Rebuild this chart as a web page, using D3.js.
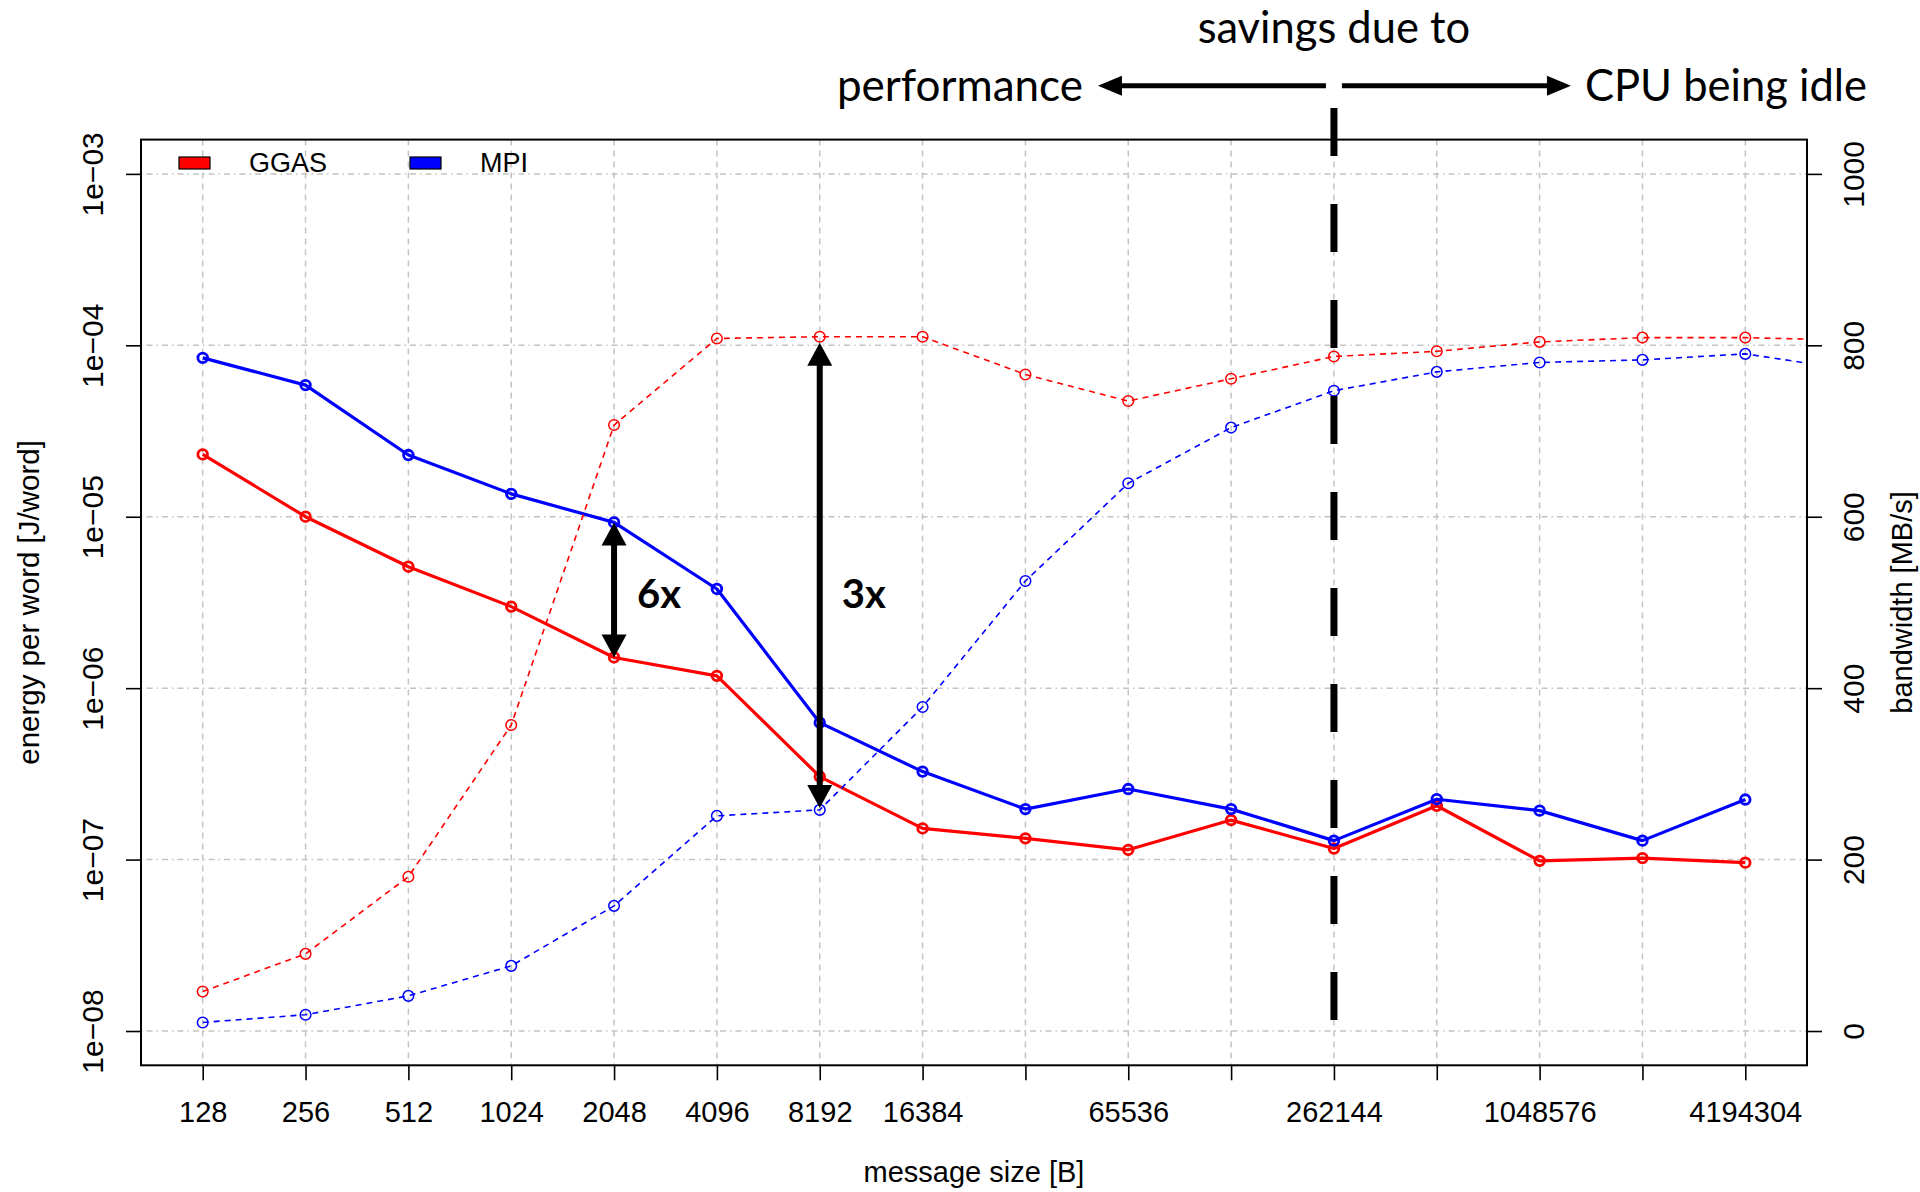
<!DOCTYPE html>
<html>
<head>
<meta charset="utf-8">
<script src="https://cdn.jsdelivr.net/npm/d3@7"></script>
<style>
  html, body { margin: 0; padding: 0; background: #ffffff; }
  svg { display: block; }
</style>
</head>
<body>
<svg id="chart" width="1920" height="1192"></svg>
<script>
// Message sizes in bytes (one measurement per power of two)
const messageSizes = [128, 256, 512, 1024, 2048, 4096, 8192, 16384, 32768, 65536,
  131072, 262144, 524288, 1048576, 2097152, 4194304];
// bandwidth runs carry one extra (larger) measurement that falls outside the frame
const bandwidthSizes = messageSizes.concat([8388608]);
const xTickLabels = [128, 256, 512, 1024, 2048, 4096, 8192, 16384, 65536, 262144, 1048576, 4194304];

// energy per word [J/word], left log axis (solid lines)
const ggasEnergy = [2.31e-5, 1.0e-5, 5.11e-6, 2.99e-6, 1.51e-6, 1.18e-6, 3.05e-7, 1.52e-7,
  1.33e-7, 1.14e-7, 1.70e-7, 1.16e-7, 2.06e-7, 9.83e-8, 1.02e-7, 9.6e-8];
const mpiEnergy = [8.45e-5, 5.86e-5, 2.29e-5, 1.36e-5, 9.27e-6, 3.79e-6, 6.29e-7, 3.26e-7,
  1.97e-7, 2.58e-7, 1.97e-7, 1.29e-7, 2.25e-7, 1.93e-7, 1.29e-7, 2.24e-7];

// bandwidth [MB/s], right linear axis (dashed lines)
const ggasBandwidth = [46, 90, 180, 357, 707, 808, 810, 810, 766, 735, 761, 787, 793, 804, 809, 809, 806];
const mpiBandwidth = [10, 19, 41, 76, 146, 251, 258, 378, 525, 639, 704, 747, 769, 780, 783, 790, 772];

const energyTicks = [1e-8, 1e-7, 1e-6, 1e-5, 1e-4, 1e-3];
const energyTickLabels = ["1e\u221208", "1e\u221207", "1e\u221206", "1e\u221205", "1e\u221204", "1e\u221203"];
const bandwidthTicks = [0, 200, 400, 600, 800, 1000];

const seriesNames = ["GGAS", "MPI"];
const seriesColors = ["#ff0000", "#0000ff"];

// ---- frame ----
const frame = { left: 141, right: 1807, top: 139.6, bottom: 1065.3 };
const svg = d3.select("#chart");
const RFONT = "'Liberation Sans', Arial, Helvetica, sans-serif";
const SLIDEFONT = "Lato, 'Open Sans', sans-serif";

// R-style 4% padding around the data range
const x = d3.scaleLog().base(2)
  .domain([Math.pow(2, 6.4), Math.pow(2, 22.6)])
  .range([frame.left, frame.right]);
const yE = d3.scaleLog()
  .domain([Math.pow(10, -8.2), Math.pow(10, -2.8)])
  .range([frame.bottom, frame.top]);
const yB = d3.scaleLinear()
  .domain([-40, 1040])
  .range([frame.bottom, frame.top]);

svg.append("defs").append("clipPath").attr("id", "plotClip")
  .append("rect")
  .attr("x", frame.left).attr("y", frame.top)
  .attr("width", frame.right - frame.left)
  .attr("height", frame.bottom - frame.top);

// ---- grid ----
const grid = svg.append("g").attr("class", "grid");
grid.selectAll("line.v").data(messageSizes).join("line")
  .attr("class", "v")
  .attr("x1", d => x(d)).attr("x2", d => x(d))
  .attr("y1", frame.top).attr("y2", frame.bottom)
  .attr("stroke", "#c4c4c4").attr("stroke-width", 1.5)
  .attr("stroke-dasharray", "6,5");
grid.selectAll("line.h").data(energyTicks).join("line")
  .attr("class", "h")
  .attr("x1", frame.left).attr("x2", frame.right)
  .attr("y1", d => yE(d)).attr("y2", d => yE(d))
  .attr("stroke", "#c4c4c4").attr("stroke-width", 1.5)
  .attr("stroke-dasharray", "1.5,4,6,4");

// ---- series ----
const plot = svg.append("g").attr("clip-path", "url(#plotClip)");

function drawSeries(sizes, values, yScale, color, solid) {
  const pts = sizes.map((s, i) => ({ s, v: values[i] }));
  const line = d3.line().x(d => x(d.s)).y(d => yScale(d.v));
  const g = plot.append("g");
  g.append("path").datum(pts)
    .attr("d", line)
    .attr("fill", "none")
    .attr("stroke", color)
    .attr("stroke-width", solid ? 3.2 : 1.6)
    .attr("stroke-dasharray", solid ? null : "6,5")
    .attr("stroke-linejoin", "round");
  g.selectAll("circle").data(pts).join("circle")
    .attr("cx", d => x(d.s)).attr("cy", d => yScale(d.v))
    .attr("r", solid ? 4.8 : 5.3)
    .attr("fill", "none")
    .attr("stroke", color)
    .attr("stroke-width", solid ? 2.8 : 1.5);
}

drawSeries(messageSizes, ggasEnergy, yE, seriesColors[0], true);
drawSeries(messageSizes, mpiEnergy, yE, seriesColors[1], true);
drawSeries(bandwidthSizes, ggasBandwidth, yB, seriesColors[0], false);
drawSeries(bandwidthSizes, mpiBandwidth, yB, seriesColors[1], false);

// ---- axes ----
const tickLen = 15;
const xAxis = svg.append("g")
  .attr("transform", `translate(0,${frame.bottom})`)
  .call(d3.axisBottom(x).tickValues(messageSizes).tickSize(tickLen)
    .tickFormat(d => xTickLabels.includes(d) ? String(d) : ""));
xAxis.selectAll("text")
  .attr("y", 56.4).attr("dy", 0)
  .style("font-family", RFONT).style("font-size", "29px").attr("fill", "#000");

const leftAxis = svg.append("g")
  .attr("transform", `translate(${frame.left},0)`)
  .call(d3.axisLeft(yE).tickValues(energyTicks).tickSize(tickLen)
    .tickFormat((d, i) => energyTickLabels[i]));
leftAxis.selectAll("text")
  .attr("transform", "rotate(-90)")
  .attr("x", 0).attr("y", -38).attr("dy", 0)
  .attr("text-anchor", "middle")
  .style("font-family", RFONT).style("font-size", "30px").attr("fill", "#000");

const rightAxis = svg.append("g")
  .attr("transform", `translate(${frame.right},0)`)
  .call(d3.axisRight(yB).tickValues(bandwidthTicks).tickSize(tickLen)
    .tickFormat(d => String(d)));
rightAxis.selectAll("text")
  .attr("transform", "rotate(-90)")
  .attr("x", 0).attr("y", 56.5).attr("dy", 0)
  .attr("text-anchor", "middle")
  .style("font-family", RFONT).style("font-size", "30px").attr("fill", "#000");

[xAxis, leftAxis, rightAxis].forEach(a => {
  a.select(".domain").remove();
  a.selectAll(".tick line").attr("stroke", "#000").attr("stroke-width", 1.6);
});

// frame box
svg.append("rect")
  .attr("x", frame.left).attr("y", frame.top)
  .attr("width", frame.right - frame.left)
  .attr("height", frame.bottom - frame.top)
  .attr("fill", "none").attr("stroke", "#000").attr("stroke-width", 2);

// axis titles
const midY = (frame.top + frame.bottom) / 2;
svg.append("text")
  .attr("x", (frame.left + frame.right) / 2).attr("y", 1182)
  .attr("text-anchor", "middle")
  .style("font-family", RFONT).style("font-size", "29px")
  .text("message size [B]");
svg.append("text")
  .attr("transform", `translate(39,${midY}) rotate(-90)`)
  .attr("text-anchor", "middle")
  .style("font-family", RFONT).style("font-size", "29.5px")
  .text("energy per word [J/word]");
svg.append("text")
  .attr("transform", `translate(1912,${midY}) rotate(-90)`)
  .attr("text-anchor", "middle")
  .style("font-family", RFONT).style("font-size", "29px")
  .text("bandwidth [MB/s]");

// ---- legend ----
const legend = svg.append("g");
const legendX = [179, 410];
seriesNames.forEach((name, i) => {
  legend.append("rect")
    .attr("x", legendX[i]).attr("y", 157)
    .attr("width", 31).attr("height", 12)
    .attr("fill", seriesColors[i]).attr("stroke", "#000").attr("stroke-width", 1.2);
  legend.append("text")
    .attr("x", legendX[i] + 70).attr("y", 172)
    .style("font-family", RFONT).style("font-size", "27px")
    .text(name);
});

// ---- annotations ----
const ann = svg.append("g");

function arrowHead(g, tipX, tipY, dirX, dirY, len, half) {
  // triangle pointing in (dirX, dirY)
  const bx = tipX - dirX * len, by = tipY - dirY * len;
  const px = -dirY, py = dirX;
  g.append("path")
    .attr("d", `M${tipX},${tipY} L${bx + px * half},${by + py * half} L${bx - px * half},${by - py * half} Z`)
    .attr("fill", "#000");
}

function doubleArrow(g, xPos, yTop, yBottom) {
  const len = 23, half = 12.5;
  g.append("line")
    .attr("x1", xPos).attr("x2", xPos)
    .attr("y1", yTop + len - 2).attr("y2", yBottom - len + 2)
    .attr("stroke", "#000").attr("stroke-width", 6);
  arrowHead(g, xPos, yTop, 0, -1, len, half);
  arrowHead(g, xPos, yBottom, 0, 1, len, half);
}

// GGAS vs MPI energy gap at 2048 B
const i2048 = messageSizes.indexOf(2048);
doubleArrow(ann, x(2048), yE(mpiEnergy[i2048]), yE(ggasEnergy[i2048]));
ann.append("text")
  .attr("x", x(2048) + 23).attr("y", 608)
  .style("font-family", SLIDEFONT).style("font-weight", 700).style("font-size", "40px")
  .text("6x");

// GGAS vs MPI bandwidth gap at 8192 B
const i8192 = messageSizes.indexOf(8192);
doubleArrow(ann, x(8192), yB(ggasBandwidth[i8192]) + 6, yB(mpiBandwidth[i8192]) - 2);
ann.append("text")
  .attr("x", x(8192) + 22).attr("y", 608)
  .style("font-family", SLIDEFONT).style("font-weight", 700).style("font-size", "40px")
  .text("3x");

// divider between the two savings regimes
const xSplit = x(262144);
ann.append("line")
  .attr("x1", xSplit).attr("x2", xSplit)
  .attr("y1", 108).attr("y2", 1020)
  .attr("stroke", "#000").attr("stroke-width", 7)
  .attr("stroke-dasharray", "48,48");

const arrowY = 85.7;
ann.append("line")
  .attr("x1", xSplit - 8).attr("x2", xSplit - 215)
  .attr("y1", arrowY).attr("y2", arrowY)
  .attr("stroke", "#000").attr("stroke-width", 5);
arrowHead(ann, xSplit - 236, arrowY, -1, 0, 24, 10);
ann.append("line")
  .attr("x1", xSplit + 8).attr("x2", xSplit + 216)
  .attr("y1", arrowY).attr("y2", arrowY)
  .attr("stroke", "#000").attr("stroke-width", 5);
arrowHead(ann, xSplit + 237, arrowY, 1, 0, 24, 10);

ann.append("text")
  .attr("x", xSplit).attr("y", 43)
  .attr("text-anchor", "middle")
  .style("font-family", SLIDEFONT).style("font-size", "43.5px")
  .text("savings due to");
ann.append("text")
  .attr("x", xSplit - 251).attr("y", 101)
  .attr("text-anchor", "end")
  .style("font-family", SLIDEFONT).style("font-size", "44px")
  .text("performance");
ann.append("text")
  .attr("x", xSplit + 251).attr("y", 101)
  .attr("text-anchor", "start")
  .style("font-family", SLIDEFONT).style("font-size", "43.5px")
  .text("CPU being idle");
</script>
</body>
</html>
